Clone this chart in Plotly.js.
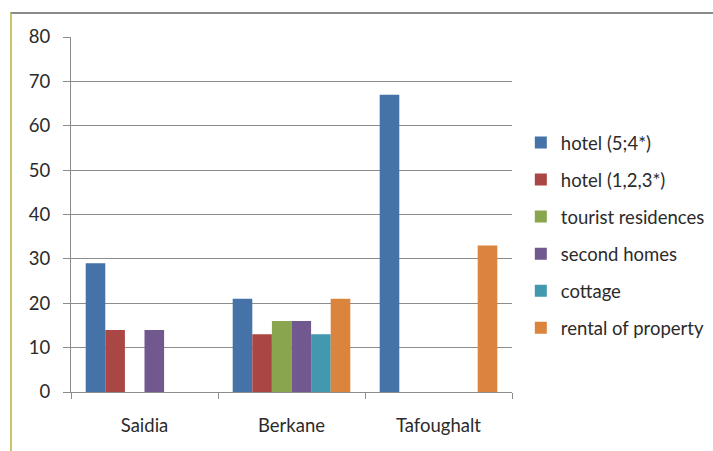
<!DOCTYPE html>
<html>
<head>
<meta charset="utf-8">
<script src="https://cdn.plot.ly/plotly-3.0.1.min.js"></script>
<style>
html,body{margin:0;padding:0;background:#fff;}
#wrap{position:relative;width:713px;height:451px;overflow:hidden;}
#frame{position:absolute;left:10px;top:12px;width:720px;height:460px;border-top:2px solid #8a8a8a;border-left:2px solid #c8c46a;box-sizing:border-box;pointer-events:none;z-index:5;}
#chart{position:absolute;left:0;top:0;width:713px;height:451px;}
</style>
</head>
<body>
<div id="wrap"><div id="chart"></div><div id="frame"></div></div>
<script>
const categories = ["Saidia", "Berkane", "Tafoughalt"];
const seriesNames = ["hotel (5;4*)", "hotel (1,2,3*)", "tourist residences", "second homes", "cottage", "rental of property"];
const hotel54 = [29, 21, 67];
const hotel123 = [14, 13, 0];
const touristResidences = [0, 16, 0];
const secondHomes = [14, 16, 0];
const cottage = [0, 13, 0];
const rentalOfProperty = [0, 21, 33];
const yTicks = [0, 10, 20, 30, 40, 50, 60, 70, 80];

const seriesValues = [hotel54, hotel123, touristResidences, secondHomes, cottage, rentalOfProperty];
const colors = ["#4572A7", "#AA4643", "#89A54E", "#71588F", "#4198AF", "#DB843D"];

const traces = seriesNames.map((name, i) => ({
  type: "bar",
  name: name,
  x: categories,
  y: seriesValues[i],
  marker: {color: colors[i]},
  legendgroup: "g" + i,
  hoverinfo: "x+y+name"
}));

const layout = {
  width: 713,
  height: 451,
  margin: {l: 71, r: 201, t: 37, b: 59, autoexpand: false},
  paper_bgcolor: "#ffffff",
  plot_bgcolor: "#ffffff",
  font: {family: "Lato, Open Sans, sans-serif", size: 18.5, color: "#2b2b2b"},
  barmode: "group",
  bargap: 0.2,
  bargroupgap: 0,
  showlegend: true,
  legend: {
    x: 1.02, xanchor: "left",
    y: 0.755, yanchor: "top",
    font: {size: 18.5, color: "#2b2b2b"},
    tracegroupgap: 10,
    itemwidth: 30,
    bgcolor: "rgba(0,0,0,0)"
  },
  xaxis: {
    type: "category",
    showgrid: false,
    showline: true,
    linecolor: "#8c8c8c",
    linewidth: 1,
    ticks: "outside",
    tickson: "boundaries",
    ticklen: 6,
    tickcolor: "#8c8c8c",
    ticklabelstandoff: 17,
    zeroline: false
  },
  yaxis: {
    range: [0, 80],
    tickvals: yTicks,
    ticktext: yTicks.map(String),
    showgrid: true,
    gridcolor: "#8c8c8c",
    gridwidth: 1,
    showline: true,
    linecolor: "#8c8c8c",
    ticks: "outside",
    ticklen: 7,
    tickcolor: "#8c8c8c",
    ticklabelstandoff: 9,
    zeroline: false
  }
};

Plotly.newPlot("chart", traces, layout, {displayModeBar: false, staticPlot: true});
</script>
</body>
</html>
